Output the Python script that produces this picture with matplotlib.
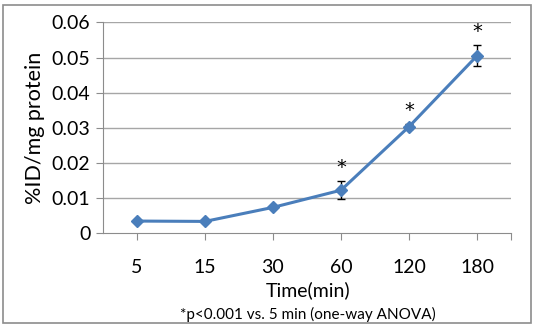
import matplotlib.pyplot as plt
from matplotlib.patches import Rectangle

# data
time_labels = ['5', '15', '30', '60', '120', '180']
uptake = [0.0034, 0.0033, 0.0073, 0.0122, 0.0303, 0.0505]
uptake_err = [0.0, 0.0, 0.0, 0.0026, 0.0008, 0.0030]
significant = [False, False, False, True, True, True]
y_ticks = [0, 0.01, 0.02, 0.03, 0.04, 0.05, 0.06]
y_tick_labels = ['0', '0.01', '0.02', '0.03', '0.04', '0.05', '0.06']

plt.rcParams['font.family'] = ['Lato', 'DejaVu Sans']

fig = plt.figure(figsize=(5.33, 3.26), dpi=100)
ax = fig.add_axes([0.1932, 0.2853, 0.7655, 0.6457])

# outer gray frame round the whole chart
fig.patches.append(Rectangle((0.006, 0.008), 0.99, 0.978, transform=fig.transFigure,
                             fill=False, edgecolor='#8c8c8c', linewidth=1.2))

xs = list(range(len(time_labels)))
line_col = '#4a7ebb'

# gridlines
for yv in y_ticks[1:]:
    ax.axhline(yv, color='#a6a6a6', linewidth=1.0, zorder=0)

ax.errorbar(xs, uptake, yerr=uptake_err, fmt='none', ecolor='black',
            elinewidth=1.0, capsize=3, capthick=1.0, zorder=2)
ax.plot(xs, uptake, color=line_col, linewidth=2.2, marker='D', markersize=6,
        markerfacecolor=line_col, markeredgecolor=line_col, zorder=3)

# significance stars
for x, y, e, s in zip(xs, uptake, uptake_err, significant):
    if s:
        ax.annotate('*', (x, y + e), xytext=(0, 3), textcoords='offset points',
                    ha='center', va='bottom', fontsize=14, family='DejaVu Sans')

ax.set_xlim(-0.5, 5.5)
ax.set_ylim(0, 0.06)

ax.set_yticks(y_ticks)
ax.set_yticklabels(y_tick_labels, fontsize=14)
ax.set_xticks(xs + [5.5])
ax.set_xticklabels(time_labels + [''], fontsize=14)
ax.tick_params(axis='x', length=5, color='#8c8c8c', pad=14)
ax.tick_params(axis='y', length=5, color='#8c8c8c', pad=4)

for side in ['top', 'right']:
    ax.spines[side].set_visible(False)
ax.spines['left'].set_color('#8c8c8c')
ax.spines['bottom'].set_color('#8c8c8c')

ax.set_ylabel('%ID/mg protein', fontsize=15.5, labelpad=5)
fig.text(0.578, 0.11, 'Time(min)', ha='center', va='center', fontsize=14)
fig.text(0.578, 0.035, '*p<0.001 vs. 5 min (one-way ANOVA)', ha='center',
         va='center', fontsize=11)

fig.savefig('out.png', dpi=100)
